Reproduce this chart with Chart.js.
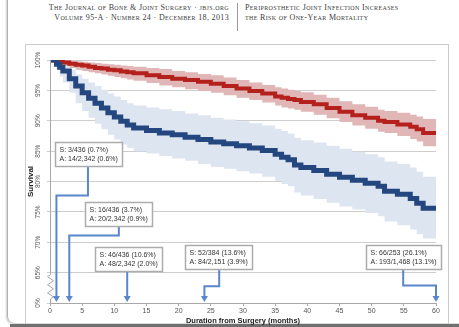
<!DOCTYPE html>
<html>
<head>
<meta charset="utf-8">
<script src="https://cdn.jsdelivr.net/npm/chart.js@4.4.1/dist/chart.umd.min.js"></script>
<style>
  html, body { margin: 0; padding: 0; width: 459px; height: 327px; overflow: hidden; background: #fff; }
  #page { position: absolute; left: 7px; top: -10px; width: 470px; height: 333px; border-left: 1px solid #b0b0b0; border-bottom-left-radius: 7px; box-shadow: -1px 1px 2px rgba(0,0,0,0.2); }
  #shadow { position: absolute; left: 10px; top: 324px; width: 449px; height: 3px; background: #6f6f6f; }
  #frame { position: absolute; left: 25px; top: 44px; width: 422px; height: 280px; border: 1px solid #cccccc; border-bottom: none; }
  .hdr { position: absolute; top: 3px; font-family: "Liberation Serif", "DejaVu Serif", serif; font-variant: small-caps; font-size: 8px; line-height: 10px; color: #3c3c3c; letter-spacing: 0.35px; white-space: nowrap; }
  #hl { right: 230px; text-align: right; }
  #hr { left: 245px; }
  #sep { position: absolute; left: 237px; top: 3px; width: 1px; height: 28px; background: #9a9a9a; }
  canvas { position: absolute; left: 0; top: 0; }
</style>
</head>
<body>
<div id="page"></div>
<div id="frame"></div>
<div id="shadow"></div>
<div class="hdr" id="hl">The Journal of Bone &amp; Joint Surgery · jbjs.org<br>Volume 95-A · Number 24 · December 18, 2013</div>
<div id="sep"></div>
<div class="hdr" id="hr">Periprosthetic Joint Infection Increases<br>the Risk of One-Year Mortality</div>
<canvas id="chart" width="459" height="327"></canvas>
<script>
// months after surgery (shared by both curves)
const months = [0, 0.5, 1, 1.5, 2, 3, 4, 5, 6, 7, 8, 9, 10, 11, 12, 13, 15, 17, 19, 21, 23, 25, 27, 29, 31, 33, 35,
  36, 37, 38, 39, 41, 43, 45, 47, 49, 51, 52, 54, 56, 57, 58, 60];

// septic (blue) survival and confidence band, %
const septicSurv = [100, 100, 99.3, 98.8, 98.2, 96.9, 95.7, 94.6, 93.7, 92.9, 92.1, 91.3, 90.6, 89.9, 89.3, 88.8,
  88.4, 88.0, 87.7, 87.3, 86.9, 86.5, 86.2, 85.9, 85.5, 85.1, 84.5, 84.0, 83.6, 82.7, 82.3,
  81.8, 81.2, 80.7, 80.2, 79.7, 79.2, 78.4, 77.9, 77.2, 76.4, 75.6, 75.6];
const septicUpper = [100, 100, 99.8, 99.5, 99.1, 98.4, 97.6, 96.9, 96.3, 95.7, 95.1, 94.5, 94.0, 93.4, 92.9, 92.5,
  92.2, 91.9, 91.6, 91.2, 90.9, 90.5, 90.2, 89.9, 89.6, 89.2, 88.7, 88.3, 87.9, 87.2, 86.8,
  86.4, 85.9, 85.4, 84.9, 84.5, 84.0, 83.3, 82.9, 82.3, 81.6, 80.8, 80.8];
const septicLower = [100, 99.6, 98.3, 97.3, 96.3, 94.6, 92.9, 91.6, 90.5, 89.5, 88.6, 87.7, 86.9, 86.1, 85.5, 85.0,
  84.6, 84.2, 83.8, 83.4, 82.9, 82.4, 82.1, 81.7, 81.3, 80.8, 80.1, 79.6, 79.2, 78.2, 77.7,
  77.1, 76.5, 75.9, 75.4, 74.8, 74.3, 73.4, 72.8, 72.1, 71.3, 70.6, 70.6];

// aseptic (red) survival and confidence band, %
const asepticSurv = [100, 99.9, 99.8, 99.7, 99.6, 99.4, 99.2, 99.1, 98.9, 98.7, 98.6, 98.4, 98.3, 98.1, 98.0, 97.8,
  97.5, 97.2, 96.9, 96.7, 96.4, 96.1, 95.7, 95.3, 94.9, 94.5, 94.0, 93.8, 93.6, 93.4, 93.1,
  92.7, 92.1, 91.5, 90.9, 90.5, 90.0, 89.8, 89.4, 89.0, 88.6, 88.0, 88.0];
const asepticUpper = [100, 100, 100, 100, 100, 99.9, 99.8, 99.7, 99.6, 99.5, 99.4, 99.3, 99.2, 99.1, 99.0, 98.9,
  98.7, 98.5, 98.2, 98.0, 97.7, 97.5, 97.1, 96.7, 96.3, 95.9, 95.5, 95.3, 95.1, 94.9, 94.7,
  94.3, 93.8, 93.2, 92.7, 92.3, 91.8, 91.6, 91.3, 91.0, 90.7, 90.3, 90.3];
const asepticLower = [100, 99.6, 99.4, 99.2, 99.0, 98.7, 98.4, 98.2, 98.0, 97.8, 97.6, 97.4, 97.2, 97.0, 96.8, 96.6,
  96.2, 95.8, 95.5, 95.2, 94.9, 94.6, 94.2, 93.8, 93.4, 93.0, 92.5, 92.2, 92.0, 91.8, 91.5,
  91.0, 90.4, 89.8, 89.2, 88.7, 88.2, 88.0, 87.5, 87.0, 86.6, 85.8, 85.8];

// ticks (the 60 tick is the broken axis, shown as 0%)
const xTicks = [0, 5, 10, 15, 20, 25, 30, 35, 40, 45, 50, 55, 60];
const yTicks = [60, 65, 70, 75, 80, 85, 90, 95, 100];
const yTickLabels = ["0%", "65%", "70%", "75%", "80%", "85%", "90%", "95%", "100%"];

// callouts: month pointed at, and the two text lines
const calloutMonths = [1, 3, 12, 24, 60];
const septicText = ["S: 3/436 (0.7%)", "S: 16/436 (3.7%)", "S: 46/436 (10.6%)", "S: 52/384 (13.6%)", "S: 66/253 (26.1%)"];
const asepticText = ["A: 14/2,342 (0.6%)", "A: 20/2,342 (0.9%)", "A: 48/2,342 (2.0%)", "A: 84/2,151 (3.9%)", "A: 193/1,468 (13.1%)"];

// where the boxes sit, in axis units (left month, top %, stem month, elbow %)
const calloutLayout = [
  { left: 0.78, top: 86.5, stem: 5.9, elbow: 77.7 },
  { left: 5.44, top: 76.6, stem: 10.7, elbow: 71.1 },
  { left: 7.0, top: 69.3, stem: null, elbow: null },
  { left: 21.0, top: 69.6, stem: 26.3, elbow: 62.75 },
  { left: 49.1, top: 69.6, stem: 54.9, elbow: 62.9 }
];

const pts = (vals) => months.map((m, i) => ({ x: m, y: vals[i] }));

const extras = {
  id: "extras",
  afterDatasetsDraw(chart) {
    const { ctx, chartArea, scales: { x, y } } = chart;
    ctx.save();

    // y axis line with break
    const ax = chartArea.left;
    const y65 = y.getPixelForValue(65), y0 = y.getPixelForValue(60);
    ctx.strokeStyle = "#a8a8a8";
    ctx.lineWidth = 1;
    ctx.beginPath();
    ctx.moveTo(ax + 0.5, chartArea.top);
    ctx.lineTo(ax + 0.5, y65 + 2);
    const zig = 6, step = (y0 - 4 - (y65 + 2)) / zig;
    for (let k = 1; k <= zig; k++) {
      ctx.lineTo(ax + 0.5 + (k % 2 ? -3 : 3), y65 + 2 + k * step - step / 2);
    }
    ctx.lineTo(ax + 0.5, y0 - 4);
    ctx.lineTo(ax + 0.5, y0);
    ctx.stroke();

    // callouts
    ctx.font = '7px "Liberation Sans", Arial, sans-serif';
    const arrow = "#5b86cc";
    calloutMonths.forEach((m, i) => {
      const lay = calloutLayout[i];
      const lines = [septicText[i], asepticText[i]];
      const left = Math.round(x.getPixelForValue(lay.left)) + 0.5;
      const top = Math.round(y.getPixelForValue(lay.top)) + 0.5;
      const w = Math.round(Math.max(...lines.map(t => ctx.measureText(t).width)) + 9);
      const h = 24;
      const tipX = x.getPixelForValue(m);
      const tipY = y0 - 1;
      const stemX = lay.stem == null ? tipX : x.getPixelForValue(lay.stem);

      ctx.strokeStyle = arrow;
      ctx.lineWidth = 2;
      ctx.beginPath();
      ctx.moveTo(stemX, top + h);
      if (lay.elbow != null) {
        const ey = y.getPixelForValue(lay.elbow);
        ctx.lineTo(stemX, ey);
        ctx.lineTo(tipX, ey);
      }
      ctx.lineTo(tipX, tipY - 5);
      ctx.stroke();
      ctx.fillStyle = arrow;
      ctx.beginPath();
      ctx.moveTo(tipX - 3.5, tipY - 6);
      ctx.lineTo(tipX + 3.5, tipY - 6);
      ctx.lineTo(tipX, tipY);
      ctx.closePath();
      ctx.fill();

      ctx.fillStyle = "#fff";
      ctx.fillRect(left, top, w, h);
      ctx.strokeStyle = "#acacac";
      ctx.lineWidth = 1.5;
      ctx.strokeRect(left, top, w, h);
      ctx.fillStyle = "#333";
      ctx.textBaseline = "middle";
      ctx.textAlign = "left";
      ctx.fillText(lines[0], left + 4, top + 7.5);
      ctx.fillText(lines[1], left + 4, top + 16.5);
    });
    ctx.restore();
  }
};

new Chart(document.getElementById("chart"), {
  type: "line",
  data: {
    datasets: [
      { data: pts(septicSurv), borderColor: "#24477f", borderWidth: 5, stepped: true, pointRadius: 0, fill: false, order: 0 },
      { data: pts(asepticSurv), borderColor: "#b4201c", borderWidth: 4, stepped: true, pointRadius: 0, fill: false, order: 1 },
      { data: pts(asepticUpper), borderWidth: 0, stepped: true, pointRadius: 0, fill: "+1", backgroundColor: "#e0b7b6", order: 2 },
      { data: pts(asepticLower), borderWidth: 0, stepped: true, pointRadius: 0, fill: false, order: 3 },
      { data: pts(septicUpper), borderWidth: 0, stepped: true, pointRadius: 0, fill: "+1", backgroundColor: "#dde5f1", order: 4 },
      { data: pts(septicLower), borderWidth: 0, stepped: true, pointRadius: 0, fill: false, order: 5 }
    ]
  },
  options: {
    responsive: false,
    animation: false,
    layout: { padding: { left: 25, top: 60, right: 23, bottom: 2 } },
    plugins: { legend: { display: false }, tooltip: { enabled: false } },
    scales: {
      x: {
        type: "linear",
        min: 0,
        max: 60,
        afterBuildTicks: (s) => { s.ticks = xTicks.map(v => ({ value: v })); },
        afterFit: (s) => { s.height = 22; },
        grid: { drawOnChartArea: false, color: "#a8a8a8", tickLength: 3 },
        border: { display: true, color: "#a8a8a8" },
        ticks: { color: "#555", padding: 1, font: { size: 7, family: '"Liberation Sans", Arial' }, maxRotation: 0 },
        title: { display: true, text: "Duration from Surgery (months)", color: "#222", padding: 0,
          font: { size: 7.5, weight: "bold", family: '"Liberation Sans", Arial' } }
      },
      y: {
        min: 60,
        max: 100,
        afterBuildTicks: (s) => { s.ticks = yTicks.map(v => ({ value: v })); },
        afterFit: (s) => { s.width = 25; },
        grid: { color: "#cdcdcd", tickLength: 3 },
        border: { display: false },
        ticks: {
          color: "#555", padding: 0, minRotation: 90, maxRotation: 90, crossAlign: "center",
          font: { size: 6.5, family: '"Liberation Sans", Arial' },
          callback: (v) => yTickLabels[yTicks.indexOf(v)]
        },
        title: { display: true, text: "Survival", color: "#222", padding: { top: 1, bottom: 0 },
          font: { size: 8, weight: "bold", family: '"Liberation Sans", Arial' } }
      }
    }
  },
  plugins: [extras]
});
</script>
</body>
</html>
